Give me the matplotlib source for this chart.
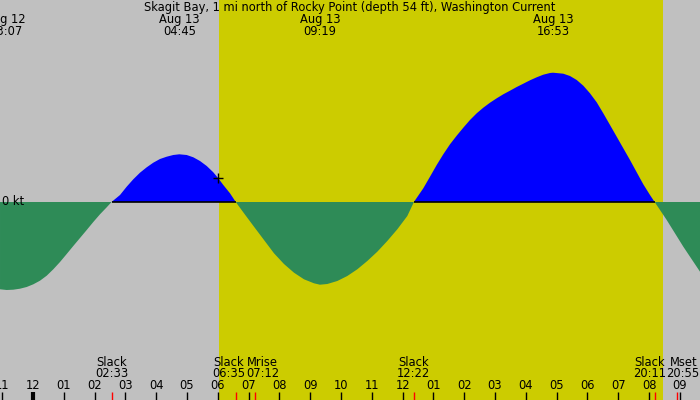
import matplotlib
matplotlib.use("Agg")
import matplotlib.pyplot as plt
import matplotlib.transforms as mtransforms

# ---------------- data ----------------
title = "Skagit Bay, 1 mi north of Rocky Point (depth 54 ft), Washington Current"

# hours relative to Aug 13 00:00, current speed (kt, + = flood/blue, - = ebb/green)
times_h = [-1.071, -0.854, -0.640, -0.422, -0.205, 0.010, 0.227, 0.445, 0.659, 0.877,
           1.094, 1.308, 1.526, 1.744, 1.958, 2.175, 2.393, 2.55,
           2.825, 3.042, 3.256, 3.474, 3.692, 3.906, 4.123, 4.341, 4.555, 4.75,
           4.990, 5.205, 5.422, 5.640, 5.854, 6.016, 6.179, 6.396, 6.583,
           6.851, 7.175, 7.500, 7.825, 8.149, 8.474, 8.799, 9.123, 9.317, 9.555,
           9.880, 10.205, 10.529, 10.854, 11.179, 11.503, 11.828, 12.153, 12.367,
           12.672, 12.890, 13.107, 13.321, 13.539, 13.756, 13.971, 14.188, 14.406,
           14.620, 14.838, 15.055, 15.269, 15.487, 15.705, 15.919, 16.136, 16.354,
           16.568, 16.786, 16.883, 17.218, 17.435, 17.653, 17.867, 18.084, 18.302,
           18.516, 18.734, 18.951, 19.166, 19.383, 19.601, 19.815, 20.032, 20.183,
           20.575, 21.114, 21.656]
speed_kt = [-0.873, -0.88, -0.877, -0.867, -0.85, -0.823, -0.787, -0.737, -0.673, -0.60,
            -0.52, -0.44, -0.36, -0.28, -0.20, -0.123, -0.053, 0.0,
            0.07, 0.153, 0.227, 0.293, 0.347, 0.393, 0.43, 0.453, 0.47, 0.477,
            0.47, 0.447, 0.41, 0.36, 0.297, 0.237, 0.17, 0.087, 0.0,
            -0.113, -0.247, -0.38, -0.513, -0.62, -0.707, -0.773, -0.813, -0.827, -0.82,
            -0.79, -0.74, -0.673, -0.59, -0.497, -0.39, -0.273, -0.14, 0.0,
            0.137, 0.253, 0.37, 0.477, 0.577, 0.663, 0.743, 0.82, 0.887,
            0.943, 0.993, 1.037, 1.077, 1.113, 1.15, 1.183, 1.217, 1.247,
            1.273, 1.29, 1.293, 1.283, 1.26, 1.22, 1.163, 1.087, 0.997,
            0.887, 0.77, 0.653, 0.537, 0.42, 0.297, 0.177, 0.07, 0.0,
            -0.18, -0.447, -0.697]

peak_dates = ["Aug 12", "Aug 13", "Aug 13", "Aug 13"]
peak_times = ["23:07", "04:45", "09:19", "16:53"]

event_names = ["Slack", "Slack", "Mrise", "Slack", "Slack", "Mset"]
event_times = ["02:33", "06:35", "07:12", "12:22", "20:11", "20:55"]

sunrise = "06:02"
sunset = "20:27"

now_time = "06:00"
now_speed = 0.24

hour_ticks = list(range(-1, 22))

# ---------------- helpers ----------------
def to_h(s, day_offset=0):
    hh, mm = s.split(":")
    return int(hh) + int(mm) / 60.0 + day_offset

# ---------------- figure ----------------
W, H = 700, 400
PX_PER_H = 30.8
X0 = 33
fig = plt.figure(figsize=(W / 100, H / 100), dpi=100)
ax = fig.add_axes([0, 0, 1, 1])
ax.set_xlim(-X0 / PX_PER_H, (W - X0) / PX_PER_H)
ax.set_ylim(-1.98, 2.02)
ax.axis("off")
fig.patch.set_facecolor("#C0C0C0")

YELLOW = "#CCCC00"
BLUE = "#0000FF"
GREEN = "#2E8B57"

ax.axvspan(to_h(sunrise), to_h(sunset), color=YELLOW, lw=0, zorder=0)

zeros = [0.0] * len(times_h)
ax.fill_between(times_h, speed_kt, zeros, where=[v >= 0 for v in speed_kt],
                interpolate=True, color=BLUE, lw=0, zorder=2)
ax.fill_between(times_h, speed_kt, zeros, where=[v <= 0 for v in speed_kt],
                interpolate=True, color=GREEN, lw=0, zorder=2)

# black baseline under flood areas
slacks = [to_h(t) for n, t in zip(event_names, event_times) if n == "Slack"]
bounds = [times_h[0]] + slacks + [times_h[-1]]
for a, b in zip(bounds[:-1], bounds[1:]):
    mid_vals = [v for t, v in zip(times_h, speed_kt) if a < t < b]
    if mid_vals and sum(mid_vals) > 0:
        ax.plot([a, b], [0, 0], color="black", lw=1.2, zorder=3, solid_capstyle="butt")

ax.plot([to_h(now_time)], [now_speed], marker="+", color="black", ms=7, mew=1, zorder=4)

FONT = "DejaVu Sans"
FS = 8.3

ax.text((2 - X0) / PX_PER_H, 0.005, "0 kt", ha="left", va="center", fontsize=FS,
        family=FONT, zorder=5)

trans = mtransforms.blended_transform_factory(ax.transData, ax.transAxes)

def yf(px):
    return 1 - px / H

ax.text(0.5, yf(8), title, transform=ax.transAxes, ha="center", va="center",
        fontsize=FS, family=FONT)
for d, t in zip(peak_dates, peak_times):
    x = to_h(t, -24 if d == "Aug 12" else 0)
    ax.text(x, yf(19.5), d, transform=trans, ha="center", va="center", fontsize=FS, family=FONT)
    ax.text(x, yf(31.5), t, transform=trans, ha="center", va="center", fontsize=FS, family=FONT)

# hour ticks
for h in hour_ticks:
    lab = f"{((h - 1) % 12) + 1:02d}"
    ax.text(h, yf(385.5), lab, transform=trans, ha="center", va="center", fontsize=FS, family=FONT)
    ax.plot([h, h], [yf(392), 0], transform=trans, color="black",
            lw=3 if h == 0 else 1, solid_capstyle="butt", clip_on=False)

# event labels and red ticks
label_shift_px = [0, -7, 8, 0, -5, 6]
for n, t, s in zip(event_names, event_times, label_shift_px):
    x = to_h(t)
    ax.plot([x, x], [yf(392), 0], transform=trans, color="red", lw=1,
            solid_capstyle="butt", clip_on=False)
    xl = x + s / PX_PER_H
    ax.text(xl, yf(362), n, transform=trans, ha="center", va="center", fontsize=FS, family=FONT)
    ax.text(xl, yf(373.5), t, transform=trans, ha="center", va="center", fontsize=FS, family=FONT)

fig.savefig("out.png", dpi=100, facecolor=fig.get_facecolor())
